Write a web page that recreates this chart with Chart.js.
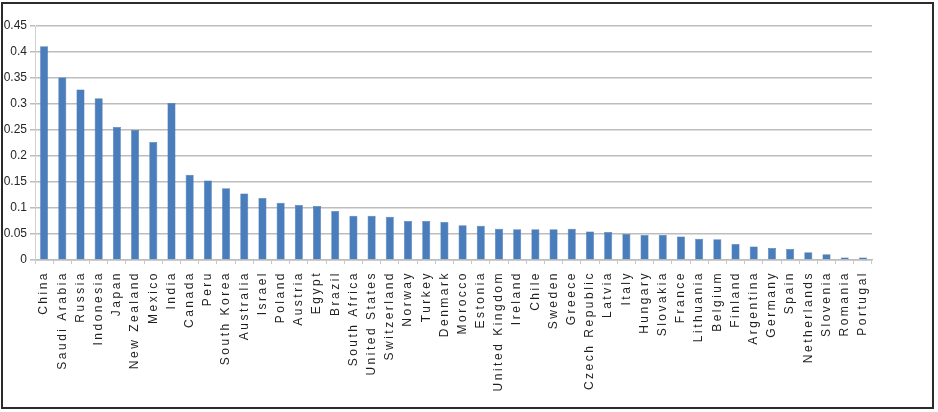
<!DOCTYPE html>
<html>
<head>
<meta charset="utf-8">
<script src="https://cdn.jsdelivr.net/npm/chart.js@4"></script>
<style>
  body { margin: 0; background: #fff; }
</style>
</head>
<body>
<canvas id="myChart" width="938" height="412"></canvas>
<script>
const countries = ['China', 'Saudi Arabia', 'Russia', 'Indonesia', 'Japan', 'New Zealand', 'Mexico', 'India',
  'Canada', 'Peru', 'South Korea', 'Australia', 'Israel', 'Poland', 'Austria', 'Egypt', 'Brazil',
  'South Africa', 'United States', 'Switzerland', 'Norway', 'Turkey', 'Denmark', 'Morocco', 'Estonia',
  'United Kingdom', 'Ireland', 'Chile', 'Sweden', 'Greece', 'Czech Republic', 'Latvia', 'Italy',
  'Hungary', 'Slovakia', 'France', 'Lithuania', 'Belgium', 'Finland', 'Argentina', 'Germany', 'Spain',
  'Netherlands', 'Slovenia', 'Romania', 'Portugal'];

const values = [0.411, 0.351, 0.328, 0.311, 0.256, 0.25, 0.227, 0.302,
  0.164, 0.153, 0.138, 0.128, 0.119, 0.11, 0.106, 0.104, 0.094,
  0.085, 0.085, 0.083, 0.075, 0.075, 0.073, 0.067, 0.066,
  0.06, 0.059, 0.059, 0.059, 0.06, 0.055, 0.054, 0.05,
  0.048, 0.048, 0.045, 0.041, 0.04, 0.031, 0.026, 0.023, 0.021,
  0.015, 0.011, 0.005, 0.005];

const yMin = 0, yMax = 0.45, yStep = 0.05;

// frame round the whole picture, like the pasted excel chart
const framePlugin = {
  id: 'frame',
  afterDraw(chart) {
    const ctx = chart.ctx;
    ctx.save();
    ctx.strokeStyle = '#2b2b2b';
    ctx.lineWidth = 2;
    ctx.strokeRect(2, 3, 931, 405);
    ctx.restore();
  }
};

// the category labels in the picture are spaced out, add letter spacing on x only
const spacingPlugin = {
  id: 'xSpacing',
  beforeDraw(chart) {
    const xs = chart.scales.x;
    if (xs._spaced) return;
    const orig = xs.drawLabels.bind(xs);
    xs.drawLabels = function (area) {
      const ctx = chart.ctx;
      ctx.save();
      ctx.letterSpacing = '2.5px';
      orig(area);
      ctx.restore();
    };
    xs._spaced = true;
  }
};

new Chart('myChart', {
  type: 'bar',
  data: {
    labels: countries,
    datasets: [{
      data: values,
      backgroundColor: '#4a7dbb',
      borderColor: '#3d6ca6',
      borderWidth: 0.5,
      categoryPercentage: 0.85,
      barPercentage: 0.52
    }]
  },
  options: {
    responsive: false,
    animation: false,
    layout: { padding: { left: 0, top: 26, right: 66, bottom: 0 } },
    plugins: {
      legend: { display: false },
      tooltip: { enabled: false }
    },
    scales: {
      x: {
        grid: { drawOnChartArea: false, drawTicks: true, tickLength: 4, color: '#c8c8c8', lineWidth: 1 },
        border: { color: '#bdbdbd', width: 1.5 },
        ticks: {
          autoSkip: false, minRotation: 90, maxRotation: 90, padding: 7,
          color: '#1f1f1f', font: { family: 'Liberation Sans', size: 12 }
        },
        afterFit(scale) { scale.height = 412 - 260; }
      },
      y: {
        min: yMin, max: yMax,
        grid: { color: '#bdbdbd', lineWidth: 1.5, tickLength: 5 },
        border: { color: '#d0d0d0', width: 1 },
        ticks: {
          stepSize: yStep, padding: 3, color: '#262626',
          font: { family: 'Liberation Sans', size: 12 },
          callback: v => String(Math.round(v * 100) / 100)
        },
        afterFit(scale) { scale.width = 35; }
      }
    }
  },
  plugins: [framePlugin, spacingPlugin]
});
</script>
</body>
</html>
